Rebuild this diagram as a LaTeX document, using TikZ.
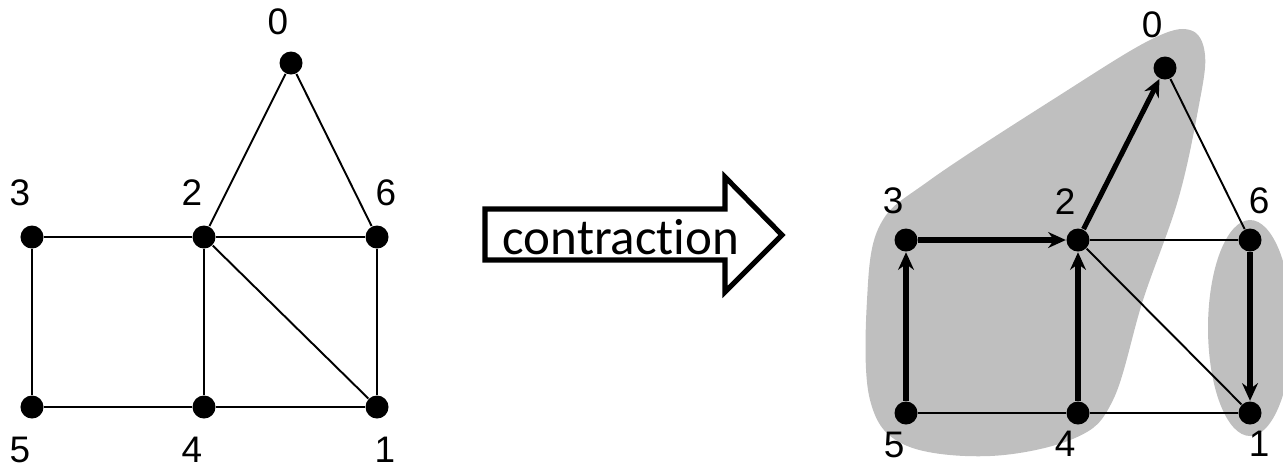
\documentclass[tikz,border=0pt]{standalone}
\usepackage{fontspec}
\setmainfont{Liberation Sans}
\newfontfamily\calibri[Ligatures={NoCommon,NoRequired,NoContextual}]{Carlito}
\usetikzlibrary{arrows.meta}

\tikzset{
  vertice/.style={circle,fill=black,inner sep=0pt,minimum size=0.23cm},
  etiqueta/.style={font=\fontsize{10.5}{12}\selectfont,inner sep=0pt},
  arista/.style={line width=0.55pt},
  dirigida/.style={line width=1.45pt,-{Stealth[length=5pt,width=4.5pt]}},
}
\definecolor{gris}{RGB}{191,191,191}

\begin{document}
\begin{tikzpicture}[x=0.01cm,y=-0.01cm]

	\useasboundingbox (0,0) rectangle (1283,469);
	\clip (0,0) rectangle (1283,469);

	% Grafo original
	\node[vertice] (l0) at (291,63) {};
	\node[vertice] (l3) at (32,237) {};
	\node[vertice] (l2) at (204,237) {};
	\node[vertice] (l6) at (377,237) {};
	\node[vertice] (l5) at (32,407) {};
	\node[vertice] (l4) at (204,407) {};
	\node[vertice] (l1) at (377,407) {};

	\draw[arista] (l0) -- (l2);
	\draw[arista] (l0) -- (l6);
	\draw[arista] (l3) -- (l2) -- (l6);
	\draw[arista] (l5) -- (l4) -- (l1);
	\draw[arista] (l3) -- (l5);
	\draw[arista] (l2) -- (l4);
	\draw[arista] (l6) -- (l1);
	\draw[arista] (l2) -- (l1);

	\node[etiqueta] at (278,22) {0};
	\node[etiqueta] at (20,193) {3};
	\node[etiqueta] at (192,193) {2};
	\node[etiqueta] at (386,193) {6};
	\node[etiqueta] at (20,450) {5};
	\node[etiqueta] at (192,450) {4};
	\node[etiqueta] at (385,450) {1};

	% Flecha de contraccion
	\draw[line width=1.45pt,fill=white] (485,209) -- (725,209) -- (725,177) -- (782,235)
		-- (725,292) -- (725,260) -- (485,260) -- cycle;
	\node[font=\calibri\fontsize{14.5}{17}\selectfont,inner sep=0pt] (texto) at (621,237) {contraction};

	% Regiones contraidas
	\fill[gris] plot[smooth cycle,tension=0.6] coordinates {
		(1190,30) (1205,55) (1198,110) (1178,200) (1143,300) (1113,400) (1075,438)
		(990,456) (905,445) (870,400) (867,300) (880,225) (930,180) (1060,95) (1150,40)};
	\fill[gris] (1250,328) ellipse (42 and 108);

	% Grafo contraido
	\node[vertice] (r0) at (1165,68) {};
	\node[vertice] (r3) at (906,240) {};
	\node[vertice] (r2) at (1078,240) {};
	\node[vertice] (r6) at (1250,240) {};
	\node[vertice] (r5) at (906,413) {};
	\node[vertice] (r4) at (1078,413) {};
	\node[vertice] (r1) at (1250,413) {};

	\draw[arista] (r0) -- (r6);
	\draw[arista] (r2) -- (r6);
	\draw[arista] (r2) -- (r1);
	\draw[arista] (r5) -- (r4) -- (r1);
	\draw[dirigida] (r5) -- (r3);
	\draw[dirigida] (r4) -- (r2);
	\draw[dirigida] (r3) -- (r2);
	\draw[dirigida] (r2) -- (r0);
	\draw[dirigida] (r6) -- (r1);

	\node[etiqueta] at (1152,25) {0};
	\node[etiqueta] at (893,201) {3};
	\node[etiqueta] at (1065,202) {2};
	\node[etiqueta] at (1259,201) {6};
	\node[etiqueta] at (894,445) {5};
	\node[etiqueta] at (1065,444) {4};
	\node[etiqueta] at (1259,444) {1};

\end{tikzpicture}
\end{document}
